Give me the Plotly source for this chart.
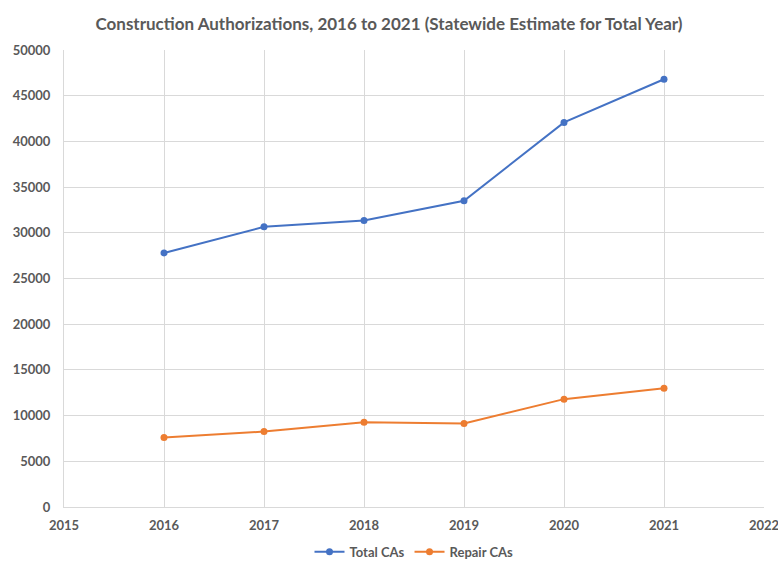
import plotly.graph_objects as go

years = [2016, 2017, 2018, 2019, 2020, 2021]
total_cas = [27800, 30650, 31350, 33500, 42080, 46800]
repair_cas = [7600, 8250, 9270, 9130, 11800, 13000]

x_ticks = [2015, 2016, 2017, 2018, 2019, 2020, 2021, 2022]
y_ticks = [0, 5000, 10000, 15000, 20000, 25000, 30000, 35000, 40000, 45000, 50000]

gray = "#595959"
grid = "#d9d9d9"
font_family = "Lato, 'Open Sans', sans-serif"

fig = go.Figure()
fig.add_trace(go.Scatter(
    x=years, y=total_cas, name="Total CAs", mode="lines+markers",
    line=dict(color="#4472C4", width=2), marker=dict(color="#4472C4", size=7),
))
fig.add_trace(go.Scatter(
    x=years, y=repair_cas, name="Repair CAs", mode="lines+markers",
    line=dict(color="#ED7D31", width=2), marker=dict(color="#ED7D31", size=7),
))

fig.update_layout(
    width=778, height=565,
    margin=dict(l=64, r=14, t=50, b=58, autoexpand=False),
    paper_bgcolor="white", plot_bgcolor="white",
    title=dict(
        text="Construction Authorizations, 2016 to 2021 (Statewide Estimate for Total Year)",
        x=0.5, xanchor="center", y=0.958, yanchor="middle",
        font=dict(family=font_family, size=17, color=gray, weight="bold"),
    ),
    xaxis=dict(
        range=[2015, 2022], tickvals=x_ticks, ticktext=[str(t) for t in x_ticks],
        showgrid=True, gridcolor=grid, gridwidth=1, automargin=False,
        showline=True, linecolor=grid, linewidth=1, mirror=False,
        zeroline=False, ticks="", ticklabelstandoff=6,
        ticklabeloverflow="allow",
        tickfont=dict(family=font_family, size=13, color=gray, weight="bold"),
    ),
    yaxis=dict(
        range=[0, 50000], tickvals=y_ticks, ticktext=[str(t) for t in y_ticks],
        showgrid=True, gridcolor=grid, gridwidth=1, automargin=False,
        showline=True, linecolor=grid, linewidth=1,
        zeroline=False, ticks="", ticklabelstandoff=10,
        tickfont=dict(family=font_family, size=13, color=gray, weight="bold"),
    ),
    legend=dict(
        orientation="h", x=0.5, xanchor="center", y=-0.065, yanchor="top",
        font=dict(family=font_family, size=13, color=gray, weight="bold"),
        itemwidth=30,
    ),
    showlegend=True,
)

fig.write_html("out.html")
